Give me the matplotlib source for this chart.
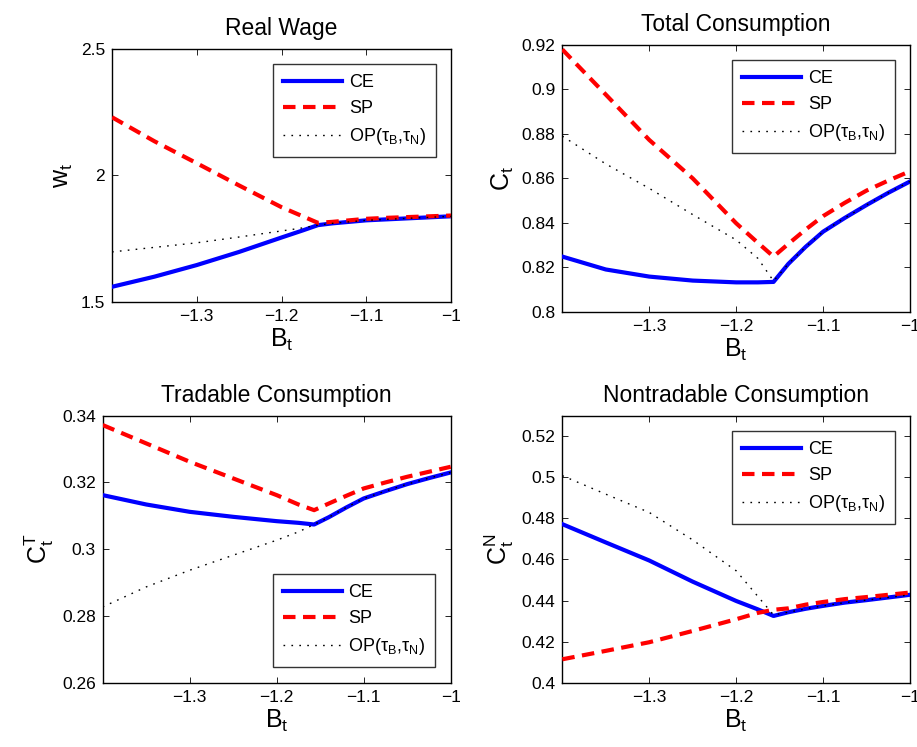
import matplotlib
matplotlib.use("Agg")
import matplotlib.pyplot as plt

plt.rcParams['font.family'] = ['Liberation Sans', 'DejaVu Sans']
plt.rcParams['mathtext.fontset'] = 'custom'
plt.rcParams['mathtext.rm'] = 'Liberation Sans'
plt.rcParams['mathtext.it'] = 'Liberation Sans'
plt.rcParams['mathtext.default'] = 'regular'

# grid of debt levels B_t
B = [-1.4, -1.35, -1.3, -1.25, -1.2, -1.175, -1.157, -1.14, -1.12, -1.1, -1.075, -1.05, -1.025, -1.0]

# Real wage
w_CE = [1.559, 1.599, 1.645, 1.697, 1.754, 1.782, 1.803, 1.810, 1.816, 1.822, 1.826, 1.830, 1.834, 1.838]
w_SP = [2.230, 2.135, 2.048, 1.960, 1.874, 1.838, 1.812, 1.816, 1.822, 1.828, 1.832, 1.835, 1.838, 1.841]
w_OP = [1.697, 1.715, 1.733, 1.756, 1.780, 1.792, 1.803, 1.810, 1.816, 1.822, 1.826, 1.830, 1.834, 1.838]

# Total consumption
c_CE = [0.8248, 0.8190, 0.8158, 0.8140, 0.8132, 0.8132, 0.8134, 0.8215, 0.8292, 0.8360, 0.8422, 0.8480, 0.8535, 0.8586]
c_SP = [0.9180, 0.8977, 0.8773, 0.8600, 0.8398, 0.8310, 0.8248, 0.8305, 0.8370, 0.8430, 0.8490, 0.8545, 0.8590, 0.8632]
c_OP = [0.8790, 0.8665, 0.8555, 0.8437, 0.8323, 0.8240, 0.8138, 0.8215, 0.8292, 0.8360, 0.8422, 0.8480, 0.8535, 0.8586]

# Tradable consumption
cT_CE = [0.3162, 0.3134, 0.3112, 0.3097, 0.3084, 0.3079, 0.3074, 0.3096, 0.3125, 0.3152, 0.3174, 0.3195, 0.3213, 0.3230]
cT_SP = [0.3372, 0.3317, 0.3262, 0.3212, 0.3162, 0.3134, 0.3117, 0.3137, 0.3160, 0.3182, 0.3200, 0.3217, 0.3232, 0.3247]
cT_OP = [0.2827, 0.2887, 0.2937, 0.2982, 0.3027, 0.3052, 0.3074, 0.3096, 0.3125, 0.3152, 0.3174, 0.3195, 0.3213, 0.3230]

# Nontradable consumption
cN_CE = [0.4772, 0.4683, 0.4595, 0.4492, 0.4398, 0.4357, 0.4325, 0.4343, 0.4360, 0.4374, 0.4390, 0.4402, 0.4415, 0.4428]
cN_SP = [0.4114, 0.4155, 0.4197, 0.4252, 0.4309, 0.4340, 0.4355, 0.4362, 0.4380, 0.4393, 0.4407, 0.4417, 0.4428, 0.4439]
cN_OP = [0.5008, 0.4918, 0.4829, 0.4695, 0.4545, 0.4420, 0.4330, 0.4343, 0.4360, 0.4374, 0.4390, 0.4402, 0.4415, 0.4428]

x_ticks = [-1.3, -1.2, -1.1, -1.0]
x_ticklabels = ['\u22121.3', '\u22121.2', '\u22121.1', '\u22121']

panels = [
    dict(title='Real Wage', ylabel='$w_t$', CE=w_CE, SP=w_SP, OP=w_OP,
         ylim=(1.5, 2.5), yticks=[1.5, 2.0, 2.5], yticklabels=['1.5', '2', '2.5'],
         pos=[112/917, 1-301.7/747, 339/917, 252.7/747], loc='upper right'),
    dict(title='Total Consumption', ylabel='$C_t$', CE=c_CE, SP=c_SP, OP=c_OP,
         ylim=(0.8, 0.92), yticks=[0.8, 0.82, 0.84, 0.86, 0.88, 0.9, 0.92],
         yticklabels=['0.8', '0.82', '0.84', '0.86', '0.88', '0.9', '0.92'],
         pos=[562.3/917, 1-311.7/747, 347.7/917, 266.7/747], loc='upper right'),
    dict(title='Tradable Consumption', ylabel='$C^T_t$', CE=cT_CE, SP=cT_SP, OP=cT_OP,
         ylim=(0.26, 0.34), yticks=[0.26, 0.28, 0.3, 0.32, 0.34],
         yticklabels=['0.26', '0.28', '0.3', '0.32', '0.34'],
         pos=[102.7/917, 1-682.7/747, 348/917, 267/747], loc='lower right'),
    dict(title='Nontradable Consumption', ylabel='$C^N_t$', CE=cN_CE, SP=cN_SP, OP=cN_OP,
         ylim=(0.4, 0.53), yticks=[0.4, 0.42, 0.44, 0.46, 0.48, 0.5, 0.52],
         yticklabels=['0.4', '0.42', '0.44', '0.46', '0.48', '0.5', '0.52'],
         pos=[562.3/917, 1-682.7/747, 347.7/917, 267/747], loc='upper right'),
]

fig = plt.figure(figsize=(9.17, 7.47), dpi=100)

for p in panels:
    ax = fig.add_axes(p['pos'])
    ax.plot(B, p['CE'], color='#0000ff', linewidth=3.0, label='CE', zorder=3)
    ax.plot(B, p['SP'], color='#ff0000', linewidth=3.0, dashes=(3, 1.8), label='SP', zorder=4)
    ax.plot(B, p['OP'], color='black', linewidth=1.0, dashes=(1.2, 4.5),
            label=r'OP($\tau_B$,$\tau_N$)', zorder=5)

    ax.set_xlim(-1.4, -1.0)
    ax.set_ylim(*p['ylim'])
    ax.set_xticks(x_ticks)
    ax.set_xticklabels(x_ticklabels)
    ax.set_yticks(p['yticks'])
    ax.set_yticklabels(p['yticklabels'])
    ax.tick_params(direction='in', top=True, right=True, labelsize=12.5,
                   length=4, width=0.6, pad=5)
    for s in ax.spines.values():
        s.set_linewidth(1.0)

    ax.set_title(p['title'], fontsize=16.5, pad=10)
    ax.set_xlabel('$B_t$', fontsize=18, labelpad=2)
    ax.set_ylabel(p['ylabel'], fontsize=18, labelpad=4)

    leg = ax.legend(loc=p['loc'], fontsize=13, frameon=True, fancybox=False,
                    edgecolor='black', handlelength=3.3, borderaxespad=0.85,
                    labelspacing=0.5, handletextpad=0.35, borderpad=0.55)
    leg.get_frame().set_linewidth(1.0)

fig.savefig('out.png', dpi=100)
